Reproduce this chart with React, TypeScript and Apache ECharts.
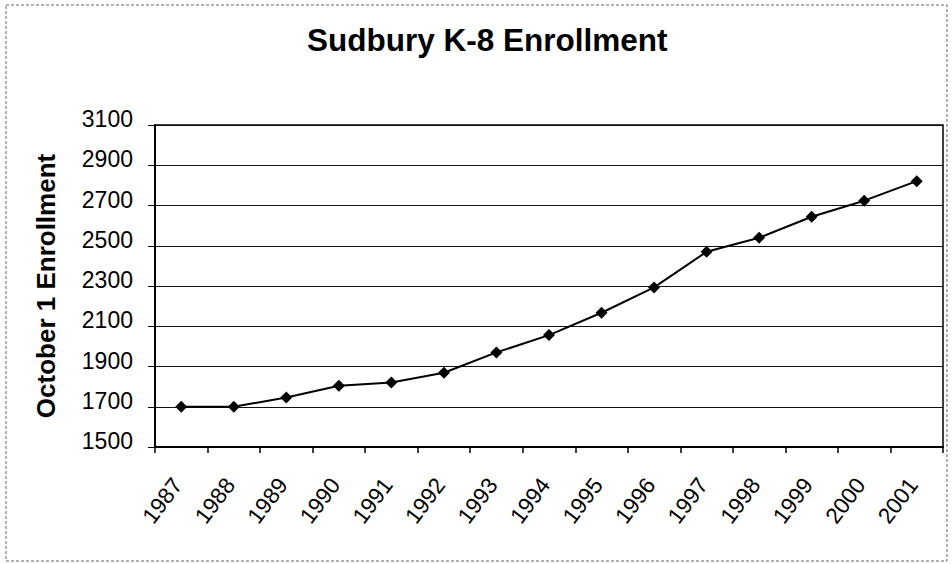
import React, { useEffect, useRef } from "react";
import * as echarts from "echarts";

const years = ["1987", "1988", "1989", "1990", "1991", "1992", "1993", "1994", "1995", "1996", "1997", "1998", "1999", "2000", "2001"];
const enrollment = [1700, 1700, 1746, 1804, 1821, 1869, 1970, 2056, 2167, 2293, 2470, 2540, 2644, 2724, 2821];
const titleText = "Sudbury K-8 Enrollment";
const yAxisName = "October 1 Enrollment";
const yMin = 1500;
const yMax = 3100;
const yStep = 200;

const FONT = "'Liberation Sans', Arial, Helvetica, sans-serif";

export default function App() {
  const ref = useRef<HTMLDivElement>(null);
  useEffect(() => {
    if (!ref.current) return;
    const chart = echarts.init(ref.current, null, { renderer: "svg" });
    chart.setOption({
      animation: false,
      backgroundColor: "#ffffff",
      title: {
        text: titleText,
        left: 307,
        top: 24,
        padding: 0,
        textStyle: { fontFamily: FONT, fontSize: 31.5, fontWeight: "bold", color: "#000" },
      },
      graphic: [
        {
          type: "rect",
          shape: { x: 6, y: 5, width: 941, height: 556 },
          style: { fill: "none", stroke: "#666", lineWidth: 1, lineDash: [3, 2] },
          silent: true,
        },
      ],
      grid: {
        left: 155,
        right: 9,
        top: 125,
        bottom: 117,
        show: true,
        borderColor: "#000",
        borderWidth: 1.5,
        backgroundColor: "transparent",
      },
      xAxis: {
        type: "category",
        data: years,
        boundaryGap: true,
        axisLine: { show: true, lineStyle: { color: "#000", width: 2 } },
        axisTick: { show: true, interval: 0, length: 6, alignWithLabel: false, lineStyle: { color: "#000", width: 1.5 } },
        axisLabel: {
          interval: 0,
          rotate: 53,
          margin: 29,
          padding: [0, 6, 0, 0],
          fontFamily: FONT,
          fontSize: 22.5,
          color: "#000",
        },
        splitLine: { show: false },
      },
      yAxis: {
        type: "value",
        min: yMin,
        max: yMax,
        interval: yStep,
        name: yAxisName,
        nameLocation: "middle",
        nameRotate: 90,
        nameGap: 96,
        nameTextStyle: { fontFamily: FONT, fontSize: 26, fontWeight: "bold", color: "#000" },
        axisLine: { show: true, lineStyle: { color: "#000", width: 2 } },
        axisTick: { show: true, length: 7, lineStyle: { color: "#000", width: 1 } },
        axisLabel: {
          margin: 22,
          fontFamily: FONT,
          fontSize: 23,
          color: "#000",
          verticalAlign: "bottom",
          lineHeight: 12,
          formatter: (v: number) => String(v),
        },
        splitLine: { show: true, lineStyle: { color: "#111", width: 1.2 } },
      },
      series: [
        {
          type: "line",
          data: enrollment,
          symbol: "diamond",
          symbolSize: 12,
          itemStyle: { color: "#000" },
          lineStyle: { color: "#000", width: 2 },
        },
      ],
    });
    return () => chart.dispose();
  }, []);
  return <div ref={ref} style={{ position: "absolute", left: 0, top: 0, width: 952, height: 564 }} />;
}
